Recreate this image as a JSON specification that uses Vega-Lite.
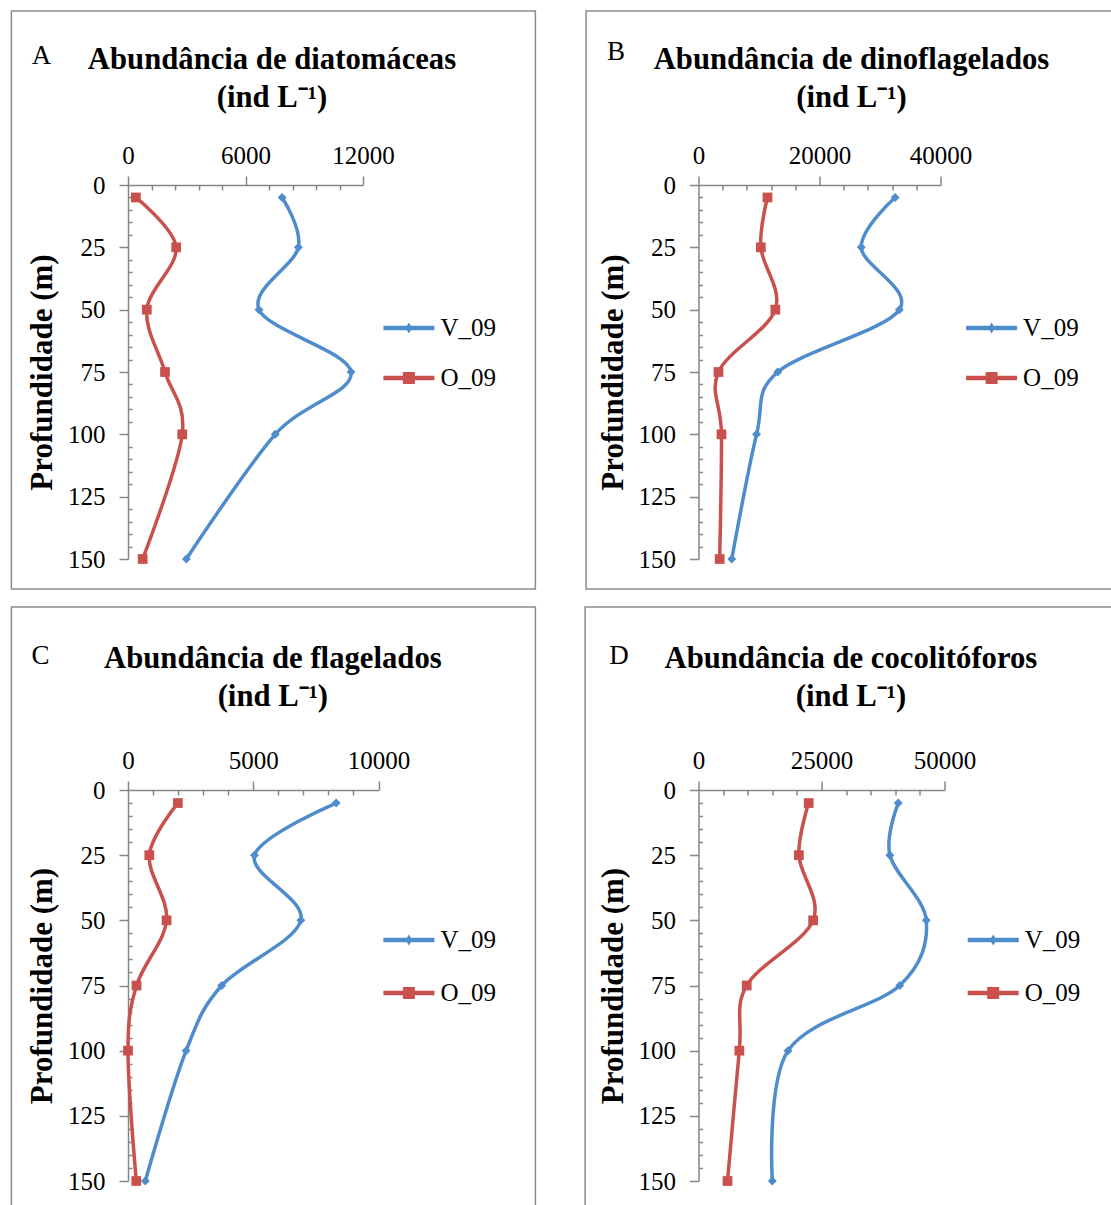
{
  "$schema": "https://vega.github.io/schema/vega-lite/v6.json",
  "background": "white",
  "padding": {"left": 10, "top": 10, "right": 0, "bottom": 0},
  "columns": 2,
  "spacing": {"row": 16, "column": 46.5},
  "align": "each",
  "bounds": "full",
  "resolve": {"scale": {"color": "independent", "shape": "independent"}, "legend": {"color": "independent", "shape": "independent"}},
  "datasets": {
    "A": [
      {"series": "V_09", "depth": 5, "value": 7870}, {"series": "V_09", "depth": 25, "value": 8700}, {"series": "V_09", "depth": 50, "value": 6690}, {"series": "V_09", "depth": 75, "value": 11390}, {"series": "V_09", "depth": 100, "value": 7520}, {"series": "V_09", "depth": 150, "value": 2980},
      {"series": "O_09", "depth": 5, "value": 400}, {"series": "O_09", "depth": 25, "value": 2460}, {"series": "O_09", "depth": 50, "value": 960}, {"series": "O_09", "depth": 75, "value": 1890}, {"series": "O_09", "depth": 100, "value": 2770}, {"series": "O_09", "depth": 150, "value": 750}
    ],
    "B": [
      {"series": "V_09", "depth": 5, "value": 32500}, {"series": "V_09", "depth": 25, "value": 26900}, {"series": "V_09", "depth": 50, "value": 33200}, {"series": "V_09", "depth": 75, "value": 13100}, {"series": "V_09", "depth": 100, "value": 9600}, {"series": "V_09", "depth": 150, "value": 5500},
      {"series": "O_09", "depth": 5, "value": 11400}, {"series": "O_09", "depth": 25, "value": 10300}, {"series": "O_09", "depth": 50, "value": 12700}, {"series": "O_09", "depth": 75, "value": 3300}, {"series": "O_09", "depth": 100, "value": 3800}, {"series": "O_09", "depth": 150, "value": 3500}
    ],
    "C": [
      {"series": "V_09", "depth": 5, "value": 8310}, {"series": "V_09", "depth": 25, "value": 5050}, {"series": "V_09", "depth": 50, "value": 6900}, {"series": "V_09", "depth": 75, "value": 3740}, {"series": "V_09", "depth": 100, "value": 2320}, {"series": "V_09", "depth": 150, "value": 690},
      {"series": "O_09", "depth": 5, "value": 1990}, {"series": "O_09", "depth": 25, "value": 850}, {"series": "O_09", "depth": 50, "value": 1540}, {"series": "O_09", "depth": 75, "value": 340}, {"series": "O_09", "depth": 100, "value": 0}, {"series": "O_09", "depth": 150, "value": 330}
    ],
    "D": [
      {"series": "V_09", "depth": 5, "value": 40600}, {"series": "V_09", "depth": 25, "value": 38900}, {"series": "V_09", "depth": 50, "value": 46300}, {"series": "V_09", "depth": 75, "value": 40900}, {"series": "V_09", "depth": 100, "value": 18200}, {"series": "V_09", "depth": 150, "value": 15000},
      {"series": "O_09", "depth": 5, "value": 22400}, {"series": "O_09", "depth": 25, "value": 20400}, {"series": "O_09", "depth": 50, "value": 23300}, {"series": "O_09", "depth": 75, "value": 9800}, {"series": "O_09", "depth": 100, "value": 8300}, {"series": "O_09", "depth": 150, "value": 5900}
    ]
  },
  "concat": [
    {
      "width": 235, "height": 374,
      "data": {"name": "A"},
      "title": {"text": ["Abundância de diatomáceas", "(ind L⁻¹)"], "anchor": "middle", "frame": "group", "dx": 26.5, "dy": 69, "offset": -34, "baseline": "top", "lineHeight": 38, "fontSize": 30.7, "fontWeight": "bold", "font": "Liberation Serif", "color": "#000"},
      "layer": [
        {
          "transform": [{"filter": "false"}],
          "mark": {"type": "point", "filled": true, "opacity": 1},
          "encoding": {
            "color": {"field": "series", "type": "nominal", "scale": {"domain": ["V_09", "O_09"], "range": ["#4F8CCB", "#C9504C"]},
              "legend": {"orient": "none", "legendX": 255.4, "legendY": 117.5, "title": null, "symbolSize": 2601, "symbolStrokeWidth": 0, "rowPadding": 11}},
            "shape": {"field": "series", "type": "nominal", "scale": {"domain": ["V_09", "O_09"], "range": ["M-1,-0.09H1V0.09H-1Z M0,-0.22L0.13,0L0,0.22L-0.13,0Z", "M-1,-0.09H1V0.09H-1Z M-0.235,-0.235H0.235V0.235H-0.235Z"]},
              "legend": {"orient": "none", "legendX": 255.4, "legendY": 117.5, "title": null, "symbolSize": 2601, "symbolStrokeWidth": 0, "rowPadding": 11}}
          }
        },
        {
          "mark": {"type": "line", "interpolate": "cardinal", "strokeWidth": 3.5, "strokeCap": "round"},
          "encoding": {
            "x": {"field": "value", "type": "quantitative", "scale": {"domain": [0, 12000], "nice": false},
              "axis": {"orient": "top", "values": [0, 1200, 2400, 3600, 4800, 6000, 7200, 8400, 9600, 10800, 12000], "tickCount": 200, "format": "d", "labelOverlap": false, "labelExpr": "datum.value % 6000 === 0 ? datum.label : ''", "tickSize": {"condition": {"test": "datum.value % 6000 === 0", "value": 9}, "value": -5}, "labelPadding": 8, "title": "A", "titleX": -87, "titleY": -122, "titleAlign": "center", "titleBaseline": "alphabetic", "titleAngle": 0, "titleFontSize": 27, "titleFontWeight": "normal"}},
            "y": {"field": "depth", "type": "quantitative", "scale": {"domain": [0, 150], "nice": false, "reverse": true},
              "axis": {"orient": "left", "values": [0,5,10,15,20,25,30,35,40,45,50,55,60,65,70,75,80,85,90,95,100,105,110,115,120,125,130,135,140,145,150], "tickCount": 200, "labelOverlap": false, "labelExpr": "datum.value % 25 === 0 ? datum.label : ''", "tickSize": {"condition": {"test": "datum.value % 25 === 0", "value": 9}, "value": -4}, "labelPadding": 14, "title": "Profundidade (m)", "titleFontSize": 31, "titleFontWeight": "bold", "titlePadding": 9}},
            "color": {"field": "series", "type": "nominal", "scale": {"domain": ["V_09", "O_09"], "range": ["#4F8CCB", "#C9504C"]}, "legend": null},
            "order": {"field": "depth", "type": "quantitative"}
          }
        },
        {
          "transform": [{"filter": "datum.series === 'V_09'"}],
          "mark": {"type": "point", "shape": "diamond", "filled": true, "opacity": 1, "size": 80, "color": "#4F8CCB"},
          "encoding": {
            "x": {"field": "value", "type": "quantitative", "scale": {"domain": [0, 12000], "nice": false}},
            "y": {"field": "depth", "type": "quantitative", "scale": {"domain": [0, 150], "nice": false, "reverse": true}}
          }
        },
        {
          "transform": [{"filter": "datum.series === 'O_09'"}],
          "mark": {"type": "point", "shape": "square", "filled": true, "opacity": 1, "size": 95, "color": "#C9504C"},
          "encoding": {
            "x": {"field": "value", "type": "quantitative", "scale": {"domain": [0, 12000], "nice": false}},
            "y": {"field": "depth", "type": "quantitative", "scale": {"domain": [0, 150], "nice": false, "reverse": true}}
          }
        },
        {
          "data": {"values": [{}]},
          "mark": {"type": "rect", "fill": null, "stroke": "#8C8C8C", "strokeWidth": 1.5},
          "encoding": {
            "x": {"datum": -5954, "type": "quantitative", "scale": {"domain": [0, 12000], "nice": false}},
            "x2": {"datum": 20803},
            "y": {"datum": -69.79, "type": "quantitative", "scale": {"domain": [0, 150], "nice": false, "reverse": true}},
            "y2": {"datum": 162.03}
          }
        }
      ]
    },
    {
      "width": 242, "height": 374,
      "data": {"name": "B"},
      "title": {"text": ["Abundância de dinoflagelados", "(ind L⁻¹)"], "anchor": "middle", "frame": "group", "dx": 32, "dy": 69, "offset": -34, "baseline": "top", "lineHeight": 38, "fontSize": 30.7, "fontWeight": "bold", "font": "Liberation Serif", "color": "#000"},
      "layer": [
        {
          "transform": [{"filter": "false"}],
          "mark": {"type": "point", "filled": true, "opacity": 1},
          "encoding": {
            "color": {"field": "series", "type": "nominal", "scale": {"domain": ["V_09", "O_09"], "range": ["#4F8CCB", "#C9504C"]},
              "legend": {"orient": "none", "legendX": 267.6, "legendY": 117.5, "title": null, "symbolSize": 2601, "symbolStrokeWidth": 0, "rowPadding": 11}},
            "shape": {"field": "series", "type": "nominal", "scale": {"domain": ["V_09", "O_09"], "range": ["M-1,-0.09H1V0.09H-1Z M0,-0.22L0.13,0L0,0.22L-0.13,0Z", "M-1,-0.09H1V0.09H-1Z M-0.235,-0.235H0.235V0.235H-0.235Z"]},
              "legend": {"orient": "none", "legendX": 267.6, "legendY": 117.5, "title": null, "symbolSize": 2601, "symbolStrokeWidth": 0, "rowPadding": 11}}
          }
        },
        {
          "mark": {"type": "line", "interpolate": "cardinal", "strokeWidth": 3.5, "strokeCap": "round"},
          "encoding": {
            "x": {"field": "value", "type": "quantitative", "scale": {"domain": [0, 40000], "nice": false},
              "axis": {"orient": "top", "values": [0, 4000, 8000, 12000, 16000, 20000, 24000, 28000, 32000, 36000, 40000], "tickCount": 200, "format": "d", "labelOverlap": false, "labelExpr": "datum.value % 20000 === 0 ? datum.label : ''", "tickSize": {"condition": {"test": "datum.value % 20000 === 0", "value": 9}, "value": -5}, "labelPadding": 8, "title": "B", "titleX": -83, "titleY": -126, "titleAlign": "center", "titleBaseline": "alphabetic", "titleAngle": 0, "titleFontSize": 27, "titleFontWeight": "normal"}},
            "y": {"field": "depth", "type": "quantitative", "scale": {"domain": [0, 150], "nice": false, "reverse": true},
              "axis": {"orient": "left", "values": [0,5,10,15,20,25,30,35,40,45,50,55,60,65,70,75,80,85,90,95,100,105,110,115,120,125,130,135,140,145,150], "tickCount": 200, "labelOverlap": false, "labelExpr": "datum.value % 25 === 0 ? datum.label : ''", "tickSize": {"condition": {"test": "datum.value % 25 === 0", "value": 9}, "value": -4}, "labelPadding": 14, "title": "Profundidade (m)", "titleFontSize": 31, "titleFontWeight": "bold", "titlePadding": 9}},
            "color": {"field": "series", "type": "nominal", "scale": {"domain": ["V_09", "O_09"], "range": ["#4F8CCB", "#C9504C"]}, "legend": null},
            "order": {"field": "depth", "type": "quantitative"}
          }
        },
        {
          "transform": [{"filter": "datum.series === 'V_09'"}],
          "mark": {"type": "point", "shape": "diamond", "filled": true, "opacity": 1, "size": 80, "color": "#4F8CCB"},
          "encoding": {
            "x": {"field": "value", "type": "quantitative", "scale": {"domain": [0, 40000], "nice": false}},
            "y": {"field": "depth", "type": "quantitative", "scale": {"domain": [0, 150], "nice": false, "reverse": true}}
          }
        },
        {
          "transform": [{"filter": "datum.series === 'O_09'"}],
          "mark": {"type": "point", "shape": "square", "filled": true, "opacity": 1, "size": 95, "color": "#C9504C"},
          "encoding": {
            "x": {"field": "value", "type": "quantitative", "scale": {"domain": [0, 40000], "nice": false}},
            "y": {"field": "depth", "type": "quantitative", "scale": {"domain": [0, 150], "nice": false, "reverse": true}}
          }
        },
        {
          "data": {"values": [{}]},
          "mark": {"type": "rect", "fill": null, "stroke": "#8C8C8C", "strokeWidth": 1.5},
          "encoding": {
            "x": {"datum": -18579, "type": "quantitative", "scale": {"domain": [0, 40000], "nice": false}},
            "x2": {"datum": 69400},
            "y": {"datum": -69.79, "type": "quantitative", "scale": {"domain": [0, 150], "nice": false, "reverse": true}},
            "y2": {"datum": 162.03}
          }
        }
      ]
    },
    {
      "width": 250.5, "height": 391,
      "data": {"name": "C"},
      "title": {"text": ["Abundância de flagelados", "(ind L⁻¹)"], "anchor": "middle", "frame": "group", "dx": 19.6, "dy": 69, "offset": -37, "baseline": "top", "lineHeight": 38, "fontSize": 30.7, "fontWeight": "bold", "font": "Liberation Serif", "color": "#000"},
      "layer": [
        {
          "transform": [{"filter": "false"}],
          "mark": {"type": "point", "filled": true, "opacity": 1},
          "encoding": {
            "color": {"field": "series", "type": "nominal", "scale": {"domain": ["V_09", "O_09"], "range": ["#4F8CCB", "#C9504C"]},
              "legend": {"orient": "none", "legendX": 255.4, "legendY": 124.5, "title": null, "symbolSize": 2601, "symbolStrokeWidth": 0, "rowPadding": 14}},
            "shape": {"field": "series", "type": "nominal", "scale": {"domain": ["V_09", "O_09"], "range": ["M-1,-0.09H1V0.09H-1Z M0,-0.22L0.13,0L0,0.22L-0.13,0Z", "M-1,-0.09H1V0.09H-1Z M-0.235,-0.235H0.235V0.235H-0.235Z"]},
              "legend": {"orient": "none", "legendX": 255.4, "legendY": 124.5, "title": null, "symbolSize": 2601, "symbolStrokeWidth": 0, "rowPadding": 14}}
          }
        },
        {
          "mark": {"type": "line", "interpolate": "cardinal", "strokeWidth": 3.5, "strokeCap": "round"},
          "encoding": {
            "x": {"field": "value", "type": "quantitative", "scale": {"domain": [0, 10000], "nice": false},
              "axis": {"orient": "top", "values": [0, 1000, 2000, 3000, 4000, 5000, 6000, 7000, 8000, 9000, 10000], "tickCount": 200, "format": "d", "labelOverlap": false, "labelExpr": "datum.value % 5000 === 0 ? datum.label : ''", "tickSize": {"condition": {"test": "datum.value % 5000 === 0", "value": 9}, "value": -5}, "labelPadding": 8, "title": "C", "titleX": -88, "titleY": -127, "titleAlign": "center", "titleBaseline": "alphabetic", "titleAngle": 0, "titleFontSize": 27, "titleFontWeight": "normal"}},
            "y": {"field": "depth", "type": "quantitative", "scale": {"domain": [0, 150], "nice": false, "reverse": true},
              "axis": {"orient": "left", "values": [0,5,10,15,20,25,30,35,40,45,50,55,60,65,70,75,80,85,90,95,100,105,110,115,120,125,130,135,140,145,150], "tickCount": 200, "labelOverlap": false, "labelExpr": "datum.value % 25 === 0 ? datum.label : ''", "tickSize": {"condition": {"test": "datum.value % 25 === 0", "value": 9}, "value": -4}, "labelPadding": 14, "title": "Profundidade (m)", "titleFontSize": 31, "titleFontWeight": "bold", "titlePadding": 9}},
            "color": {"field": "series", "type": "nominal", "scale": {"domain": ["V_09", "O_09"], "range": ["#4F8CCB", "#C9504C"]}, "legend": null},
            "order": {"field": "depth", "type": "quantitative"}
          }
        },
        {
          "transform": [{"filter": "datum.series === 'V_09'"}],
          "mark": {"type": "point", "shape": "diamond", "filled": true, "opacity": 1, "size": 80, "color": "#4F8CCB"},
          "encoding": {
            "x": {"field": "value", "type": "quantitative", "scale": {"domain": [0, 10000], "nice": false}},
            "y": {"field": "depth", "type": "quantitative", "scale": {"domain": [0, 150], "nice": false, "reverse": true}}
          }
        },
        {
          "transform": [{"filter": "datum.series === 'O_09'"}],
          "mark": {"type": "point", "shape": "square", "filled": true, "opacity": 1, "size": 95, "color": "#C9504C"},
          "encoding": {
            "x": {"field": "value", "type": "quantitative", "scale": {"domain": [0, 10000], "nice": false}},
            "y": {"field": "depth", "type": "quantitative", "scale": {"domain": [0, 150], "nice": false, "reverse": true}}
          }
        },
        {
          "data": {"values": [{}]},
          "mark": {"type": "rect", "fill": null, "stroke": "#8C8C8C", "strokeWidth": 1.5},
          "encoding": {
            "x": {"datum": -4655, "type": "quantitative", "scale": {"domain": [0, 10000], "nice": false}},
            "x2": {"datum": 16263},
            "y": {"datum": -70.2, "type": "quantitative", "scale": {"domain": [0, 150], "nice": false, "reverse": true}},
            "y2": {"datum": 162}
          }
        }
      ]
    },
    {
      "width": 246, "height": 391,
      "data": {"name": "D"},
      "title": {"text": ["Abundância de cocolitóforos", "(ind L⁻¹)"], "anchor": "middle", "frame": "group", "dx": 29.4, "dy": 69, "offset": -37, "baseline": "top", "lineHeight": 38, "fontSize": 30.7, "fontWeight": "bold", "font": "Liberation Serif", "color": "#000"},
      "layer": [
        {
          "transform": [{"filter": "false"}],
          "mark": {"type": "point", "filled": true, "opacity": 1},
          "encoding": {
            "color": {"field": "series", "type": "nominal", "scale": {"domain": ["V_09", "O_09"], "range": ["#4F8CCB", "#C9504C"]},
              "legend": {"orient": "none", "legendX": 269.2, "legendY": 124.5, "title": null, "symbolSize": 2601, "symbolStrokeWidth": 0, "rowPadding": 14}},
            "shape": {"field": "series", "type": "nominal", "scale": {"domain": ["V_09", "O_09"], "range": ["M-1,-0.09H1V0.09H-1Z M0,-0.22L0.13,0L0,0.22L-0.13,0Z", "M-1,-0.09H1V0.09H-1Z M-0.235,-0.235H0.235V0.235H-0.235Z"]},
              "legend": {"orient": "none", "legendX": 269.2, "legendY": 124.5, "title": null, "symbolSize": 2601, "symbolStrokeWidth": 0, "rowPadding": 14}}
          }
        },
        {
          "mark": {"type": "line", "interpolate": "cardinal", "strokeWidth": 3.5, "strokeCap": "round"},
          "encoding": {
            "x": {"field": "value", "type": "quantitative", "scale": {"domain": [0, 50000], "nice": false},
              "axis": {"orient": "top", "values": [0, 5000, 10000, 15000, 20000, 25000, 30000, 35000, 40000, 45000, 50000], "tickCount": 200, "format": "d", "labelOverlap": false, "labelExpr": "datum.value % 25000 === 0 ? datum.label : ''", "tickSize": {"condition": {"test": "datum.value % 25000 === 0", "value": 9}, "value": -5}, "labelPadding": 8, "title": "D", "titleX": -80, "titleY": -127, "titleAlign": "center", "titleBaseline": "alphabetic", "titleAngle": 0, "titleFontSize": 27, "titleFontWeight": "normal"}},
            "y": {"field": "depth", "type": "quantitative", "scale": {"domain": [0, 150], "nice": false, "reverse": true},
              "axis": {"orient": "left", "values": [0,5,10,15,20,25,30,35,40,45,50,55,60,65,70,75,80,85,90,95,100,105,110,115,120,125,130,135,140,145,150], "tickCount": 200, "labelOverlap": false, "labelExpr": "datum.value % 25 === 0 ? datum.label : ''", "tickSize": {"condition": {"test": "datum.value % 25 === 0", "value": 9}, "value": -4}, "labelPadding": 14, "title": "Profundidade (m)", "titleFontSize": 31, "titleFontWeight": "bold", "titlePadding": 9}},
            "color": {"field": "series", "type": "nominal", "scale": {"domain": ["V_09", "O_09"], "range": ["#4F8CCB", "#C9504C"]}, "legend": null},
            "order": {"field": "depth", "type": "quantitative"}
          }
        },
        {
          "transform": [{"filter": "datum.series === 'V_09'"}],
          "mark": {"type": "point", "shape": "diamond", "filled": true, "opacity": 1, "size": 80, "color": "#4F8CCB"},
          "encoding": {
            "x": {"field": "value", "type": "quantitative", "scale": {"domain": [0, 50000], "nice": false}},
            "y": {"field": "depth", "type": "quantitative", "scale": {"domain": [0, 150], "nice": false, "reverse": true}}
          }
        },
        {
          "transform": [{"filter": "datum.series === 'O_09'"}],
          "mark": {"type": "point", "shape": "square", "filled": true, "opacity": 1, "size": 95, "color": "#C9504C"},
          "encoding": {
            "x": {"field": "value", "type": "quantitative", "scale": {"domain": [0, 50000], "nice": false}},
            "y": {"field": "depth", "type": "quantitative", "scale": {"domain": [0, 150], "nice": false, "reverse": true}}
          }
        },
        {
          "data": {"values": [{}]},
          "mark": {"type": "rect", "fill": null, "stroke": "#8C8C8C", "strokeWidth": 1.5},
          "encoding": {
            "x": {"datum": -23049, "type": "quantitative", "scale": {"domain": [0, 50000], "nice": false}},
            "x2": {"datum": 85300},
            "y": {"datum": -70.2, "type": "quantitative", "scale": {"domain": [0, 150], "nice": false, "reverse": true}},
            "y2": {"datum": 162}
          }
        }
      ]
    }
  ],
  "config": {
    "view": {"stroke": null},
    "font": "Liberation Serif",
    "axis": {"labelFont": "Liberation Serif", "labelFontSize": 25, "labelColor": "#000", "titleFont": "Liberation Serif", "titleColor": "#000", "domainColor": "#868686", "tickColor": "#868686", "domainWidth": 1.5, "tickWidth": 1.5, "grid": false, "labelFlush": false, "labelOverlap": false, "labelBound": false},
    "legend": {"labelFont": "Liberation Serif", "labelFontSize": 25, "labelColor": "#000", "padding": 0, "labelOffset": 6, "labelBaseline": "middle"}
  }
}
